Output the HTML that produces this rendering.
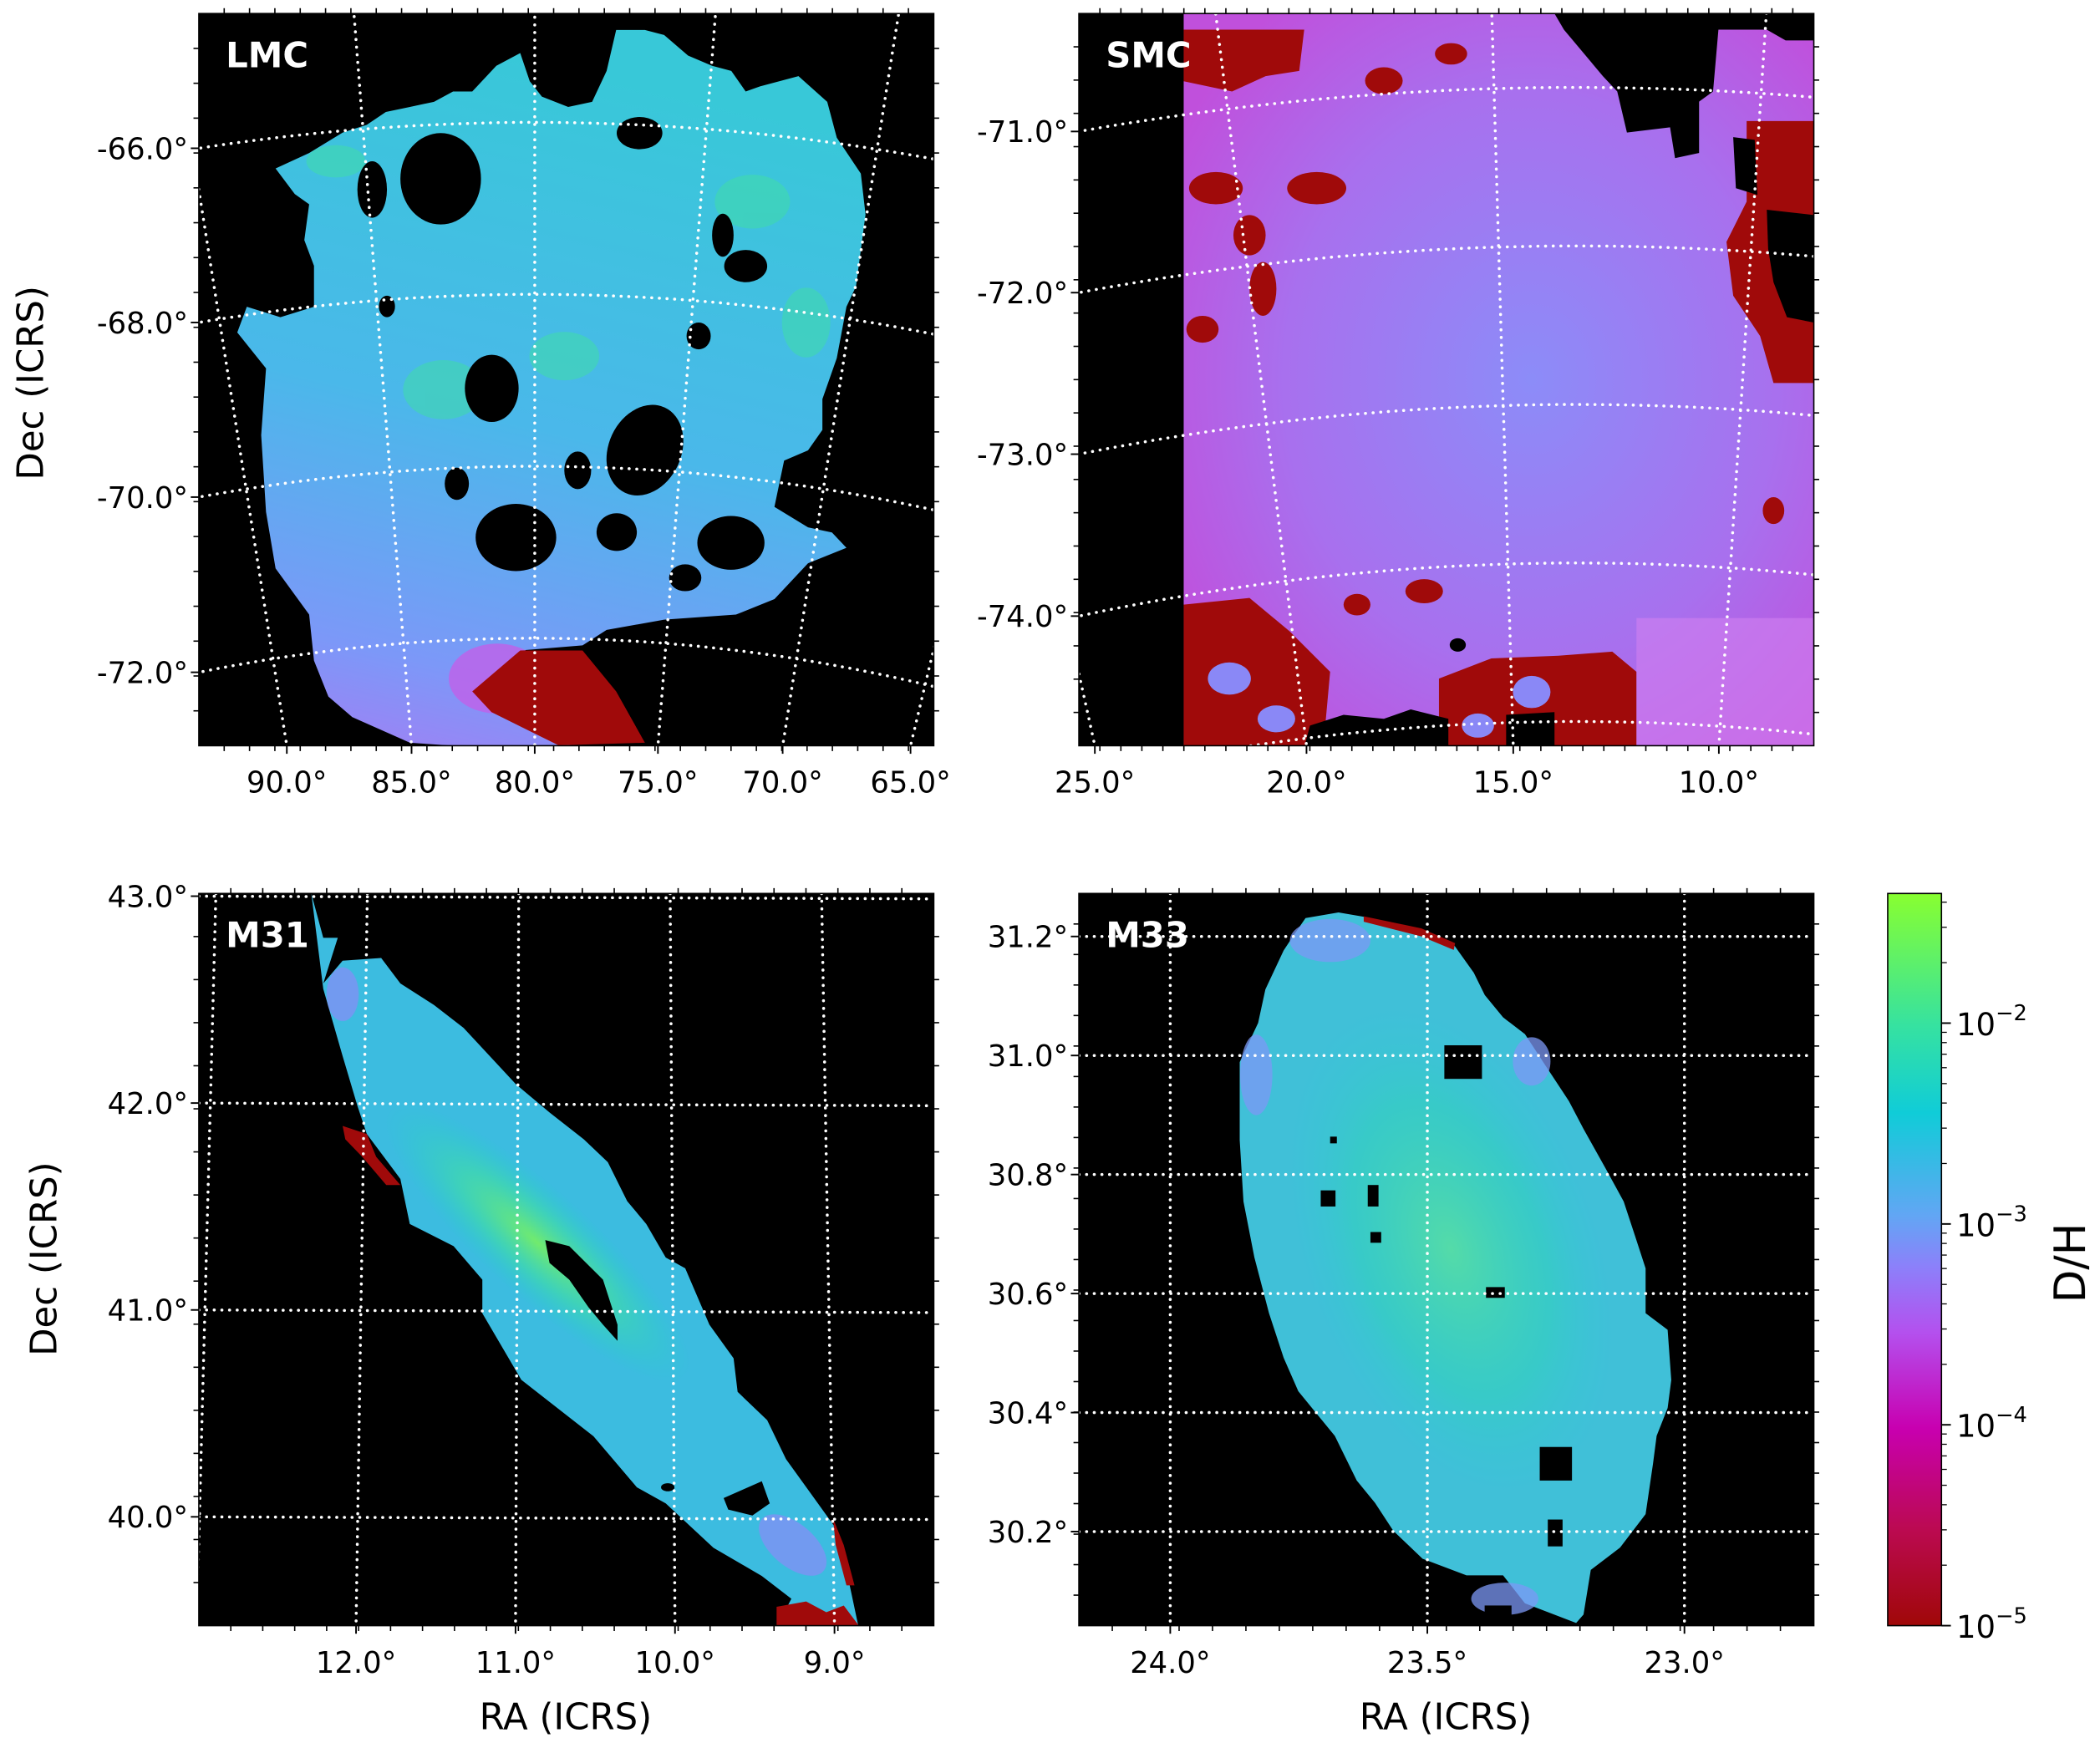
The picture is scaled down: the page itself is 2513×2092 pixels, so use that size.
<!DOCTYPE html>
<html>
<head>
<meta charset="utf-8">
<style>
html,body{margin:0;padding:0;background:#fff;}
svg{display:block;}
text{font-family:"DejaVu Sans","Liberation Sans",sans-serif;}
</style>
</head>
<body>
<svg id="fig" xmlns="http://www.w3.org/2000/svg" width="2513" height="2092" viewBox="0 0 1563 1301">
<defs>
  <clipPath id="clipLMC"><rect x="148" y="10" width="547" height="545"/></clipPath>
  <clipPath id="clipSMC"><rect x="803" y="10" width="547" height="545"/></clipPath>
  <clipPath id="clipM31"><rect x="148" y="665" width="547" height="545"/></clipPath>
  <clipPath id="clipM33"><rect x="803" y="665" width="547" height="545"/></clipPath>
  <linearGradient id="cmap" x1="0" y1="1" x2="0" y2="0">
    <stop offset="0" stop-color="#a00808"/>
    <stop offset="0.13" stop-color="#bb0a50"/>
    <stop offset="0.27" stop-color="#c800b0"/>
    <stop offset="0.40" stop-color="#b450ee"/>
    <stop offset="0.49" stop-color="#8c80fa"/>
    <stop offset="0.56" stop-color="#62a6f4"/>
    <stop offset="0.70" stop-color="#10ccd8"/>
    <stop offset="0.82" stop-color="#36e2a0"/>
    <stop offset="1" stop-color="#88ff30"/>
  </linearGradient>
  <linearGradient id="lmcFill" x1="0.3" y1="0" x2="0.1" y2="1">
    <stop offset="0" stop-color="#38c8d8"/>
    <stop offset="0.5" stop-color="#4ab8ea"/>
    <stop offset="0.85" stop-color="#7c98f8"/>
    <stop offset="1" stop-color="#a080f4"/>
  </linearGradient>
  <radialGradient id="smcFill" cx="0.55" cy="0.5" r="0.65">
    <stop offset="0" stop-color="#8c8cf8"/>
    <stop offset="0.6" stop-color="#a870ee"/>
    <stop offset="1" stop-color="#c050dc"/>
  </radialGradient>
  <radialGradient id="m31Glow" cx="0.5" cy="0.5" r="0.5">
    <stop offset="0" stop-color="#78f060" stop-opacity="0.9"/>
    <stop offset="0.5" stop-color="#40e0a0" stop-opacity="0.6"/>
    <stop offset="1" stop-color="#20d0c8" stop-opacity="0"/>
  </radialGradient>
  <radialGradient id="m33Glow" cx="0.5" cy="0.5" r="0.5">
    <stop offset="0" stop-color="#58e0a0" stop-opacity="0.85"/>
    <stop offset="0.6" stop-color="#30d4b8" stop-opacity="0.5"/>
    <stop offset="1" stop-color="#30c8d8" stop-opacity="0"/>
  </radialGradient>
</defs>

<!-- LMC panel -->
<g>
  <rect x="148" y="10" width="547" height="545" fill="#000"/>
  <g clip-path="url(#clipLMC)">
    <polygon fill="url(#lmcFill)" points="205.1,125.3 230.1,113.8 255.1,98.6 273,92.8 287.2,83.3 305.1,79.5 323,75.7 337.2,68 351.5,68 369.4,48.9 387.2,39.4 394.3,60.4 403.3,71.8 422.9,79.5 440.7,75.7 451.5,52.7 458.6,22.2 480,22.2 494.3,26 512.1,41.3 530,48.9 544.3,52.7 555,68 565.7,64.2 594.3,56.6 615.7,75.7 622.8,102.4 640.7,129.1 644.2,159.6 637.1,213.1 630,228.3 622.8,266.5 612.1,297 612.1,319.9 601.4,335.2 583.6,342.8 576.4,377.2 601.4,392.5 619.2,396.3 630,407.7 601.4,419.2 576.4,445.9 547.8,457.4 494.3,461.2 451.5,468.8 433.6,480.3 387.2,484.1 408.6,495.5 447.9,518.4 476.4,549 422.9,554.7 333.6,554.7 305.1,552.8 262.2,533.7 244.4,518.4 233.7,491.7 230.1,457.4 205.1,423 198,381 194.4,323.8 198,274.1 176.6,247.4 183.7,228.3 208.7,236 233.7,228.3 233.7,197.8 226.5,178.7 230.1,152 219.4,144.4"/>
    <g fill="#40dca8" opacity="0.55">
      <ellipse cx="330" cy="290" rx="30" ry="22"/>
      <ellipse cx="420" cy="265" rx="26" ry="18"/>
      <ellipse cx="560" cy="150" rx="28" ry="20"/>
      <ellipse cx="600" cy="240" rx="18" ry="26"/>
      <ellipse cx="250" cy="120" rx="22" ry="12"/>
    </g>
    <ellipse cx="370" cy="505" rx="36" ry="26" fill="#c060e8" opacity="0.8"/>
    <polygon fill="#a00a0a" points="387.2,484.1 433.6,484.1 458.6,514.6 480,552.8 415.7,554.7 365.8,530 351.5,514.6"/>
    <g fill="#000">
      <ellipse cx="328" cy="133" rx="30" ry="34"/>
      <ellipse cx="277" cy="141" rx="11" ry="21"/>
      <ellipse cx="480" cy="335" rx="27" ry="35" transform="rotate(25 480 335)"/>
      <ellipse cx="366" cy="289" rx="20" ry="25"/>
      <ellipse cx="384" cy="400" rx="30" ry="25"/>
      <ellipse cx="555" cy="198" rx="16" ry="12"/>
      <ellipse cx="538" cy="175" rx="8" ry="16"/>
      <ellipse cx="544" cy="404" rx="25" ry="20"/>
      <ellipse cx="459" cy="396" rx="15" ry="14"/>
      <ellipse cx="476" cy="99" rx="17" ry="12"/>
      <ellipse cx="430" cy="350" rx="10" ry="14"/>
      <ellipse cx="340" cy="360" rx="9" ry="12"/>
      <ellipse cx="520" cy="250" rx="9" ry="10"/>
      <ellipse cx="510" cy="430" rx="12" ry="10"/>
      <ellipse cx="288" cy="228" rx="6" ry="8"/>
    </g>
    <g id="lmcGrid"></g>
  </g>
  <rect x="148" y="10" width="547" height="545" fill="none" stroke="#000" stroke-width="1"/>
  <text x="168" y="50" font-size="26" font-weight="bold" fill="#fff">LMC</text>
  <g id="lmcAxes"></g>
</g>

<!-- SMC panel -->
<g>
  <rect x="803" y="10" width="547" height="545" fill="#000"/>
  <g clip-path="url(#clipSMC)">
    <rect x="881" y="10" width="470" height="545" fill="url(#smcFill)"/>
    <g fill="#a00a0a">
      <polygon points="881,22 970.7,22 967,52.7 942,56.6 917,68 881,60.4"/>
      <ellipse cx="905" cy="140" rx="20" ry="12"/>
      <ellipse cx="980" cy="140" rx="22" ry="12"/>
      <ellipse cx="930" cy="175" rx="12" ry="15"/>
      <ellipse cx="940" cy="215" rx="10" ry="20"/>
      <ellipse cx="895" cy="245" rx="12" ry="10"/>
      <ellipse cx="1030" cy="60" rx="14" ry="10"/>
      <ellipse cx="1080" cy="40" rx="12" ry="8"/>
      <polygon points="1300,90 1350,90 1350,285 1320,285 1310,250 1290,220 1285,180 1300,150"/>
      <polygon points="881,450 930,445 960,470 990,500 985,555 881,555"/>
      <polygon points="1071,505 1110,490 1160,488 1200,485 1218,500 1218,555 1071,555"/>
      <ellipse cx="1060" cy="440" rx="14" ry="9"/>
      <ellipse cx="1320" cy="380" rx="8" ry="10"/>
      <ellipse cx="1010" cy="450" rx="10" ry="8"/>
    </g>
    <g fill="#8a88f6">
      <ellipse cx="915" cy="505" rx="16" ry="12"/>
      <ellipse cx="950" cy="535" rx="14" ry="10"/>
      <ellipse cx="1140" cy="515" rx="14" ry="12"/>
      <ellipse cx="1100" cy="540" rx="12" ry="9"/>
    </g>
    <rect x="1218" y="460" width="132" height="95" fill="#d080f0" opacity="0.6"/>
    <g fill="#000">
      <polygon points="1157,10 1351,10 1350,30 1329,30 1315,22 1279,22 1275,68 1264.6,75.6 1264.6,113.8 1246.7,117.6 1243,94.7 1210.9,98.6 1203.7,68 1193,56.6 1164,22"/>
      <polygon points="1315,156 1350,160 1350,240 1330,236 1320,210 1316,185"/>
      <polygon points="1290,102 1306,104 1308,145 1292,140"/>
      <polygon points="975,540 1000,532 1030,535 1050,528 1078,535 1078,555 971,555"/>
      <polygon points="1121,532 1157,530 1157,555 1121,555"/>
      <ellipse cx="1085" cy="480" rx="6" ry="5"/>
    </g>
    <g id="smcGrid"></g>
  </g>
  <rect x="803" y="10" width="547" height="545" fill="none" stroke="#000" stroke-width="1"/>
  <text x="823" y="50" font-size="26" font-weight="bold" fill="#fff">SMC</text>
  <g id="smcAxes"></g>
</g>

<!-- M31 panel -->
<g>
  <rect x="148" y="665" width="547" height="545" fill="#000"/>
  <g clip-path="url(#clipM31)">
    <polygon fill="#3cbce0" points="231.7,665 240.6,698 251.4,698 240.6,732 255,715 283.7,713 298,732 323,748 345,765 384,807 409,828 434.5,848 452.4,865 466.8,894 481,911 495.5,936 510,944 528,986 546,1011 549,1036 571,1057 585,1086 603,1111 621,1136 632,1178 639,1211 578,1211 589,1190 567,1173 531,1152 495.5,1119 474,1107 441.7,1069 388,1027 359,977.5 359,952.5 337.6,927.5 305,911 298,877.5 273,844 266,823 255,786 240.6,736"/>
    <ellipse cx="400" cy="925" rx="150" ry="40" transform="rotate(42 400 925)" fill="url(#m31Glow)"/>
    <g fill="#8a8cf6" opacity="0.7">
      <ellipse cx="590" cy="1150" rx="30" ry="16" transform="rotate(40 590 1150)"/>
      <ellipse cx="255" cy="740" rx="12" ry="20"/>
    </g>
    <g fill="#a00a0a">
      <polygon points="255,838 273,844 280,861 298,882 287.5,882 269.6,861 257,848"/>
      <polygon points="578,1196 600,1192 615,1200 628,1195 640,1211 578,1211"/>
      <polygon points="620,1130 628,1150 636,1180 630,1180 622,1150"/>
    </g>
    <g fill="#000">
      <polygon points="405.8,923 423.7,927.5 448.8,952.5 459.6,986 459.6,998 448.8,986 438,973 423.7,952.5 409,940"/>
      <polygon points="538.6,1115 567,1102.5 572.9,1119 560,1128 542,1123.6"/>
      <ellipse cx="330" cy="939" rx="10" ry="5"/>
      <ellipse cx="497" cy="1107" rx="5" ry="3"/>
    </g>
    <g id="m31Grid"></g>
  </g>
  <rect x="148" y="665" width="547" height="545" fill="none" stroke="#000" stroke-width="1"/>
  <text x="168" y="705" font-size="26" font-weight="bold" fill="#fff">M31</text>
  <g id="m31Axes"></g>
</g>

<!-- M33 panel -->
<g>
  <rect x="803" y="665" width="547" height="545" fill="#000"/>
  <g clip-path="url(#clipM33)">
    <polygon fill="#40c0d8" points="971.7,683.3 996.2,679.1 1015.3,682.4 1058.8,692.8 1080.6,701.1 1096.9,724 1105.1,740.6 1118.7,757.2 1135,769.7 1148.6,790.5 1167.7,819.5 1178.6,840.3 1194.9,869.4 1208.5,894.3 1216.7,919.2 1224.8,944.1 1224.8,977.4 1241.2,989.8 1243.9,1027.2 1241.2,1048 1233,1068.8 1230.3,1089.5 1224.8,1127 1205.8,1151.9 1184,1168.5 1178.6,1201.7 1173.1,1208 1135,1193.4 1118.7,1172.6 1091.5,1172.6 1058.8,1160.2 1037,1139.4 1023.4,1118.6 1009.8,1102 993.5,1068.8 966.3,1035.5 955.4,1010.6 944.5,977.4 933.6,935.8 925.5,894.3 922.7,848.6 922.7,790.5 936.4,761.4 941.8,736.4 955.4,707.4 963.6,695"/>
    <ellipse cx="1080" cy="930" rx="110" ry="190" transform="rotate(-20 1080 930)" fill="url(#m33Glow)"/>
    <g fill="#7c98f6" opacity="0.75">
      <ellipse cx="990" cy="700" rx="30" ry="16"/>
      <ellipse cx="935" cy="800" rx="12" ry="30"/>
      <ellipse cx="1140" cy="790" rx="14" ry="18"/>
      <ellipse cx="1120" cy="1190" rx="25" ry="12"/>
    </g>
    <polygon fill="#a00a0a" points="1015,682 1058,691 1083,702 1082,707 1058,697 1015,686"/>
    <g fill="#000">
      <rect x="1075" y="778" width="28" height="25"/>
      <rect x="1106" y="958" width="14" height="8"/>
      <rect x="1146" y="1077" width="24" height="25"/>
      <rect x="1152" y="1131" width="11" height="20"/>
      <rect x="983" y="886" width="11" height="12"/>
      <rect x="1018" y="882" width="8" height="16"/>
      <rect x="1020" y="917" width="8" height="8"/>
      <rect x="990" y="846" width="5" height="5"/>
      <rect x="1105" y="1195" width="20" height="15"/>
    </g>
    <g id="m33Grid"></g>
  </g>
  <rect x="803" y="665" width="547" height="545" fill="none" stroke="#000" stroke-width="1"/>
  <text x="823" y="705" font-size="26" font-weight="bold" fill="#fff">M33</text>
  <g id="m33Axes"></g>
</g>

<!-- colorbar -->
<g>
  <rect x="1405" y="665" width="40" height="545" fill="url(#cmap)" stroke="#000" stroke-width="1"/>
  <g id="cbAxes"></g>
  <text x="1552" y="940" font-size="32" text-anchor="middle" transform="rotate(-90 1552 940)">D/H</text>
</g>

<!-- axis titles -->
<text x="32" y="285" font-size="27" text-anchor="middle" transform="rotate(-90 32 285)">Dec (ICRS)</text>
<text x="42" y="937" font-size="27" text-anchor="middle" transform="rotate(-90 42 937)">Dec (ICRS)</text>
<text x="421" y="1287" font-size="27" text-anchor="middle">RA (ICRS)</text>
<text x="1076" y="1287" font-size="27" text-anchor="middle">RA (ICRS)</text>

<script>
// ---- data arrays ----
const lmcRaTicks = [90, 85, 80, 75, 70, 65];
const lmcDecTicks = [-66, -68, -70, -72];
const smcRaTicks = [25, 20, 15, 10];
const smcDecTicks = [-71, -72, -73, -74];
const smcDecGridExtra = [-75];
const m31RaTicks = [13, 12, 11, 10, 9];
const m31RaLabels = [12, 11, 10, 9];
const m31DecTicks = [43, 42, 41, 40];
const m33RaTicks = [24.0, 23.5, 23.0];
const m33DecTicks = [31.2, 31.0, 30.8, 30.6, 30.4, 30.2];
const cbExponents = [-2, -3, -4, -5];

const NS = 'http://www.w3.org/2000/svg';
function mk(tag, attrs, parent) {
  const e = document.createElementNS(NS, tag);
  for (const k in attrs) e.setAttribute(k, attrs[k]);
  parent.appendChild(e);
  return e;
}
const D = Math.PI / 180;
const dotStyle = {fill: 'none', stroke: '#fff', 'stroke-width': 2.2, 'stroke-dasharray': '0.1 5.6', 'stroke-linecap': 'round'};
function fmt(v, d) { return v.toFixed(d) + '\u00b0'; }

// ---- projections (axis functions) ----
function lmcR(dec) { return 1629 - (-66 - dec) * 64; }
function lmcTh(ra) { return 0.9 * (ra - 80) * D; }
function lmcProj(ra, dec) { const R = lmcR(dec), t = lmcTh(ra); return [398 - R * Math.sin(t), 1720 - R * Math.cos(t)]; }
function smcR(dec) { return 1997 + (dec + 72) * 118; }
function smcTh(ra) { return 1.078 * (13.44 - ra) * D; }
function smcProj(ra, dec) { const R = smcR(dec), t = smcTh(ra); return [1174 + R * Math.sin(t), 2180 - R * Math.cos(t)]; }
function m31X(ra) { return 265 + (12 - ra) * 118.7; }
function m31Y(dec) { return 667 + (43 - dec) * 154; }
function m33X(ra) { return 871 + (24 - ra) * 382.7; }
function m33Y(dec) { return 697 + (31.2 - dec) * 443; }
function cbY(exp) { return 1210 - (exp + 5) * 149.5; }

function pathFrom(fn, a0, a1, n) {
  let d = '';
  for (let i = 0; i <= n; i++) { const a = a0 + (a1 - a0) * i / n; const p = fn(a); d += (i ? 'L' : 'M') + p[0].toFixed(1) + ',' + p[1].toFixed(1); }
  return d;
}
function minorTicks(g, x0, y0, x1, y1, step, len, dir) {
  // simple decorative minor ticks along an edge
  const L = Math.hypot(x1 - x0, y1 - y0), n = Math.floor(L / step);
  for (let i = 1; i < n; i++) {
    const x = x0 + (x1 - x0) * i / n, y = y0 + (y1 - y0) * i / n;
    const t = mk('line', {x1: x, y1: y, x2: x + dir[0] * len, y2: y + dir[1] * len, stroke: '#000', 'stroke-width': 1}, g);
    
    
  }
}
function label(g, x, y, txt, anchor, name) {
  const t = mk('text', {x: x, y: y, 'font-size': 22, 'text-anchor': anchor}, g);
  t.textContent = txt;
  
  
  return t;
}

// ---- LMC ----
(function () {
  const grid = document.getElementById('lmcGrid'), ax = document.getElementById('lmcAxes');
  lmcRaTicks.forEach(ra => {
    const p = mk('path', Object.assign({d: pathFrom(dec => lmcProj(ra, dec), -76, -62, 40)}, dotStyle), grid);
    
    
    const x = 398 - (1720 - 555) * Math.tan(lmcTh(ra));
    label(ax, x, 590, fmt(ra, 1), 'middle', 'lmc-ra-tick-label');
    const tk = mk('line', {x1: x, y1: 555, x2: x, y2: 561, stroke: '#000', 'stroke-width': 1.2}, ax);
    
    
  });
  lmcDecTicks.forEach(dec => {
    const p = mk('path', Object.assign({d: pathFrom(ra => lmcProj(ra, dec), 100, 58, 60)}, dotStyle), grid);
    
    
    const R = lmcR(dec), y = 1720 - Math.sqrt(R * R - 250 * 250);
    label(ax, 140, y + 8, fmt(dec, 1).replace('-', '-'), 'end', 'lmc-dec-tick-label');
    const tk = mk('line', {x1: 142, y1: y, x2: 148, y2: y, stroke: '#000', 'stroke-width': 1.2}, ax);
    
    
  });
  minorTicks(ax, 148, 555, 695, 555, 18.4, 4, [0, 1]);
  minorTicks(ax, 148, 10, 148, 555, 25.8, -4, [1, 0]);
  minorTicks(ax, 148, 10, 695, 10, 18.4, 4, [0, -1]);
  minorTicks(ax, 695, 10, 695, 555, 25.8, 4, [1, 0]);
})();

// ---- SMC ----
(function () {
  const grid = document.getElementById('smcGrid'), ax = document.getElementById('smcAxes');
  smcRaTicks.forEach(ra => {
    const p = mk('path', Object.assign({d: pathFrom(dec => smcProj(ra, dec), -76, -69, 30)}, dotStyle), grid);
    
    
    const x = 1174 + (2180 - 555) * Math.tan(smcTh(ra));
    label(ax, x, 590, fmt(ra, 1), 'middle', 'smc-ra-tick-label');
    const tk = mk('line', {x1: x, y1: 555, x2: x, y2: 561, stroke: '#000', 'stroke-width': 1.2}, ax);
    
    
  });
  smcDecTicks.concat(smcDecGridExtra).forEach(dec => {
    const p = mk('path', Object.assign({d: pathFrom(ra => smcProj(ra, dec), 30, 3, 60)}, dotStyle), grid);
    
    
  });
  smcDecTicks.forEach(dec => {
    const R = smcR(dec), y = 2180 - Math.sqrt(R * R - 371 * 371);
    label(ax, 795, y + 8, fmt(dec, 1), 'end', 'smc-dec-tick-label');
    const tk = mk('line', {x1: 797, y1: y, x2: 803, y2: y, stroke: '#000', 'stroke-width': 1.2}, ax);
    
    
  });
  minorTicks(ax, 803, 555, 1350, 555, 15.3, 4, [0, 1]);
  minorTicks(ax, 803, 10, 803, 555, 24, -4, [1, 0]);
  minorTicks(ax, 803, 10, 1350, 10, 15.3, 4, [0, -1]);
  minorTicks(ax, 1350, 10, 1350, 555, 24, 4, [1, 0]);
})();

// ---- M31 ----
(function () {
  const grid = document.getElementById('m31Grid'), ax = document.getElementById('m31Axes');
  m31RaTicks.forEach(ra => {
    const xb = m31X(ra), slant = (ra - 10.6) * 6;
    const p = mk('line', Object.assign({x1: xb + slant, y1: 665, x2: xb, y2: 1210}, dotStyle), grid);
    
    
  });
  m31RaLabels.forEach(ra => {
    const x = m31X(ra);
    label(ax, x, 1245, fmt(ra, 1), 'middle', 'm31-ra-tick-label');
    const tk = mk('line', {x1: x, y1: 1210, x2: x, y2: 1216, stroke: '#000', 'stroke-width': 1.2}, ax);
    
    
  });
  m31DecTicks.forEach(dec => {
    const y = m31Y(dec);
    const p = mk('line', Object.assign({x1: 148, y1: y, x2: 695, y2: y + 2}, dotStyle), grid);
    
    
    label(ax, 140, y + 8, fmt(dec, 1), 'end', 'm31-dec-tick-label');
    const tk = mk('line', {x1: 142, y1: y, x2: 148, y2: y, stroke: '#000', 'stroke-width': 1.2}, ax);
    
    
  });
  minorTicks(ax, 148, 1210, 695, 1210, 23.7, 4, [0, 1]);
  minorTicks(ax, 148, 665, 148, 1210, 30.8, -4, [1, 0]);
  minorTicks(ax, 148, 665, 695, 665, 23.7, 4, [0, -1]);
  minorTicks(ax, 695, 665, 695, 1210, 30.8, 4, [1, 0]);
})();

// ---- M33 ----
(function () {
  const grid = document.getElementById('m33Grid'), ax = document.getElementById('m33Axes');
  m33RaTicks.forEach(ra => {
    const x = m33X(ra);
    const p = mk('line', Object.assign({x1: x, y1: 665, x2: x, y2: 1210}, dotStyle), grid);
    
    
    label(ax, x, 1245, fmt(ra, 1), 'middle', 'm33-ra-tick-label');
    const tk = mk('line', {x1: x, y1: 1210, x2: x, y2: 1216, stroke: '#000', 'stroke-width': 1.2}, ax);
    
    
  });
  m33DecTicks.forEach(dec => {
    const y = m33Y(dec);
    const p = mk('line', Object.assign({x1: 803, y1: y, x2: 1350, y2: y}, dotStyle), grid);
    
    
    label(ax, 795, y + 8, fmt(dec, 1), 'end', 'm33-dec-tick-label');
    const tk = mk('line', {x1: 797, y1: y, x2: 803, y2: y, stroke: '#000', 'stroke-width': 1.2}, ax);
    
    
  });
  minorTicks(ax, 803, 1210, 1350, 1210, 24, 4, [0, 1]);
  minorTicks(ax, 803, 665, 803, 1210, 22.2, -4, [1, 0]);
  minorTicks(ax, 803, 665, 1350, 665, 24, 4, [0, -1]);
  minorTicks(ax, 1350, 665, 1350, 1210, 22.2, 4, [1, 0]);
})();

// ---- colorbar ----
(function () {
  const ax = document.getElementById('cbAxes');
  cbExponents.forEach(e => {
    const y = cbY(e);
    const tk = mk('line', {x1: 1445, y1: y, x2: 1452, y2: y, stroke: '#000', 'stroke-width': 1.2}, ax);
    
    
    const t = mk('text', {x: 1456, y: y + 9, 'font-size': 23}, ax);
    
    
    t.appendChild(document.createTextNode('10'));
    const s = mk('tspan', {'font-size': 16, dy: -11}, t);
    s.textContent = '\u2212' + Math.abs(e);
    for (let k = 2; k <= 9; k++) {
      const yy = y - Math.log10(k) * 149.5;
      if (yy < 665) break;
      const m = mk('line', {x1: 1445, y1: yy, x2: 1449, y2: yy, stroke: '#000', 'stroke-width': 0.8}, ax);
      
      
    }
  });
})();
</script>
</svg>
</body>
</html>
